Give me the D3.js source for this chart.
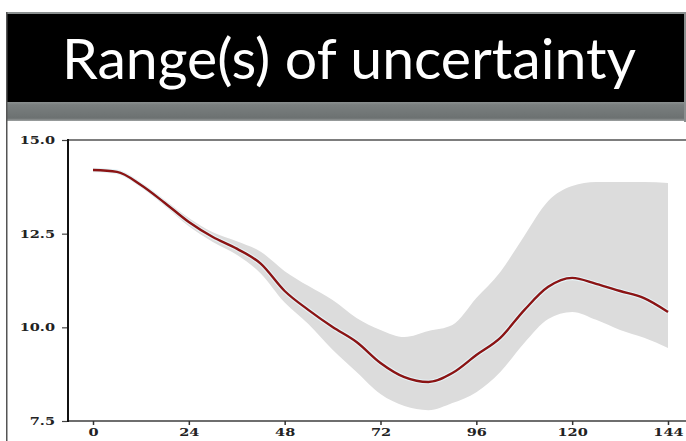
<!DOCTYPE html>
<html><head><meta charset="utf-8">
<script src="https://cdn.jsdelivr.net/npm/d3@7"></script>
<style>html,body{margin:0;padding:0;background:#fff;overflow:hidden}</style>
</head><body>
<script>
const title = "Range(s) of uncertainty";
const hours = [0,6,12,18,24,30,36,42,48,54,60,66,72,78,84,90,96,102,108,114,120,126,132,138,144];
const meanVals = [14.20,14.15,13.80,13.32,12.81,12.41,12.10,11.70,10.97,10.46,10.01,9.61,9.05,8.67,8.54,8.78,9.26,9.72,10.46,11.08,11.32,11.16,10.97,10.78,10.41];
const upperVals = [14.20,14.17,13.85,13.40,12.92,12.54,12.30,12.02,11.50,11.10,10.73,10.25,9.93,9.74,9.90,10.06,10.78,11.48,12.44,13.37,13.77,13.88,13.88,13.88,13.85];
const lowerVals = [14.20,14.12,13.75,13.24,12.70,12.28,11.94,11.44,10.66,10.08,9.40,8.81,8.22,7.90,7.79,7.98,8.27,8.81,9.58,10.22,10.41,10.20,9.93,9.72,9.45];
const xTicks = [0,24,48,72,96,120,144];
const yTicks = [7.5,10.0,12.5,15.0];

const W = 686, H = 441;
const svg = d3.select("body").append("svg").attr("width", W).attr("height", H);

// slide background
svg.append("rect").attr("width", W).attr("height", H).attr("fill", "#fff");
svg.append("rect").attr("x", 6).attr("y", 12).attr("width", W - 6).attr("height", 2).attr("fill", "#8a8f8f");
svg.append("rect").attr("x", 7).attr("y", 14).attr("width", W - 7).attr("height", 88).attr("fill", "#000");
const grad = svg.append("defs").append("linearGradient").attr("id", "gb").attr("x1", 0).attr("x2", 0).attr("y1", 0).attr("y2", 1);
grad.append("stop").attr("offset", 0).attr("stop-color", "#8c9191");
grad.append("stop").attr("offset", 0.15).attr("stop-color", "#7a7f7f");
grad.append("stop").attr("offset", 0.85).attr("stop-color", "#6c7171");
grad.append("stop").attr("offset", 1).attr("stop-color", "#9ea2a2");
svg.append("rect").attr("x", 7).attr("y", 102).attr("width", W - 7).attr("height", 19).attr("fill", "url(#gb)");
svg.append("rect").attr("x", 6).attr("y", 12).attr("width", 1.5).attr("height", H - 12).attr("fill", "#555");
svg.append("rect").attr("x", W - 2).attr("y", 12).attr("width", 2).attr("height", 110).attr("fill", "#8a8f8f");

svg.append("text").attr("x", 62).attr("y", 79)
  .attr("fill", "#fff").attr("font-family", "Lato, 'Open Sans', sans-serif")
  .attr("font-size", 56).attr("textLength", 574).attr("lengthAdjust", "spacingAndGlyphs")
  .text(title);

// chart
const x = d3.scaleLinear().domain([0, 144]).range([93, 668]);
const y = d3.scaleLinear().domain([7.5, 15]).range([421, 140]);

const data = hours.map((h, i) => ({h, m: meanVals[i], lo: lowerVals[i], hi: upperVals[i]}));

svg.append("path").datum(data)
  .attr("d", d3.area().x(d => x(d.h)).y0(d => y(d.lo)).y1(d => y(d.hi)).curve(d3.curveMonotoneX))
  .attr("fill", "#dcdcdc");

svg.append("path").datum(data)
  .attr("d", d3.line().x(d => x(d.h)).y(d => y(d.m)).curve(d3.curveMonotoneX))
  .attr("fill", "none").attr("stroke", "#e6f4f8").attr("stroke-width", 4.5);
svg.append("path").datum(data)
  .attr("d", d3.line().x(d => x(d.h)).y(d => y(d.m)).curve(d3.curveMonotoneX))
  .attr("fill", "none").attr("stroke", "#8b1414").attr("stroke-width", 2.4);

// spines
svg.append("line").attr("x1", 67).attr("x2", W).attr("y1", 140).attr("y2", 140).attr("stroke", "#7d7d7d").attr("stroke-width", 2);
svg.append("line").attr("x1", 67).attr("x2", W).attr("y1", 421).attr("y2", 421).attr("stroke", "#6e6e6e").attr("stroke-width", 2);
svg.append("line").attr("x1", 68).attr("x2", 68).attr("y1", 139).attr("y2", 422).attr("stroke", "#111").attr("stroke-width", 2);

// axes
const fmtY = d3.format(".1f");
const yAxis = svg.append("g").attr("transform", "translate(67,0)")
  .call(d3.axisLeft(y).tickValues(yTicks).tickFormat(fmtY).tickSize(5).tickPadding(4));
yAxis.select(".domain").remove();
yAxis.selectAll(".tick line").attr("stroke", "#444").attr("stroke-width", 1.2);
yAxis.selectAll(".tick text")
  .attr("font-family", "'DejaVu Serif', serif").attr("font-weight", "bold").attr("font-size", 11)
  .attr("fill", "#222").attr("x", 0).attr("text-anchor", "end")
  .attr("transform", "translate(-12,0) scale(1.32,1)");

const xAxis = svg.append("g").attr("transform", "translate(0,421)")
  .call(d3.axisBottom(x).tickValues(xTicks).tickSize(4).tickPadding(3));
xAxis.select(".domain").remove();
xAxis.selectAll(".tick line").attr("stroke", "#333").attr("stroke-width", 1.5);
xAxis.selectAll(".tick text")
  .attr("font-family", "'DejaVu Serif', serif").attr("font-weight", "bold").attr("font-size", 11)
  .attr("fill", "#222").attr("transform", "scale(1.32,1)");
</script>
</body></html>
